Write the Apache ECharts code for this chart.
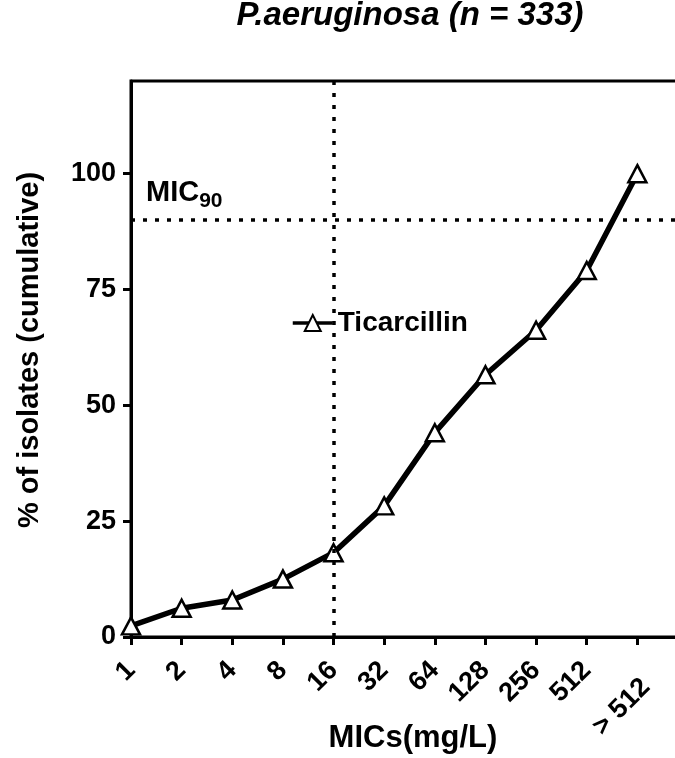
<!DOCTYPE html>
<html>
<head>
<meta charset="utf-8">
<script src="https://cdn.jsdelivr.net/npm/echarts@6/dist/echarts.min.js"></script>
<style>
  html, body { margin: 0; padding: 0; background: #fff; }
  #chart { width: 675px; height: 758px; }
</style>
</head>
<body>
<div id="chart"></div>
<script>
// MIC categories (mg/L) and cumulative % of isolates
const categories = ['1', '2', '4', '8', '16', '32', '64', '128', '256', '512', '> 512'];
const cumulative = [2.4, 6.2, 8.0, 12.5, 18.2, 28.3, 44.1, 56.6, 66.2, 79.1, 100];
const yTicks = [0, 25, 50, 75, 100];
const mic90Value = 90;
const mic90Category = '16';

const font = 'Liberation Sans, Arial, sans-serif';

const chart = echarts.init(document.getElementById('chart'));

chart.setOption({
    animation: false,
    backgroundColor: '#fff',
    textStyle: { fontFamily: font, color: '#000' },
    grid: {
        // plot runs off the right edge of the picture
        left: 131, top: 81, width: 557, height: 556,
        outerBoundsMode: 'none',
        show: true, borderColor: '#000', borderWidth: 3
    },
    legend: {
        left: 291, top: 309,
        itemWidth: 40, itemHeight: 20, padding: 0,
        lineStyle: { width: 3.5 },
        textStyle: { fontFamily: font, fontWeight: 'bold', fontSize: 28, color: '#000' },
        data: ['Ticarcillin']
    },
    xAxis: {
        type: 'category',
        boundaryGap: false,
        // trailing empty slot carries the axis past the last point
        data: categories.concat(['']),
        axisLine: { lineStyle: { color: '#000', width: 3 } },
        axisTick: { interval: 0, length: 8, lineStyle: { color: '#000', width: 3 } },
        axisLabel: {
            interval: 0, rotate: 45, margin: 29,
            fontFamily: font, fontWeight: 'bold', fontSize: 27, color: '#000',
            formatter: v => v === '> 512' ? '{far|' + v + '}' : v,
            rich: {
                far: {
                    fontFamily: font, fontWeight: 'bold', fontSize: 27, color: '#000',
                    padding: [36, 6, 0, 0]
                }
            }
        },
        splitLine: { show: false }
    },
    yAxis: {
        type: 'value',
        min: 0, max: 120, interval: 25,
        axisLine: { show: true, lineStyle: { color: '#000', width: 3 } },
        axisTick: { show: true, length: 8, customValues: yTicks, lineStyle: { color: '#000', width: 3 } },
        axisLabel: {
            margin: 15, customValues: yTicks,
            fontFamily: font, fontWeight: 'bold', fontSize: 27, color: '#000',
            formatter: v => yTicks.indexOf(v) >= 0 ? String(v) : ''
        },
        splitLine: { show: false }
    },
    series: [{
        name: 'Ticarcillin',
        type: 'line',
        data: cumulative,
        symbol: 'triangle',
        symbolSize: [18, 17],
        lineStyle: { color: '#000', width: 5.5 },
        itemStyle: { color: '#fff', borderColor: '#000', borderWidth: 2.5 },
        z: 3,
        markLine: {
            silent: true,
            symbol: ['none', 'none'],
            lineStyle: { color: '#000', width: 3.5, type: [4, 8] },
            data: [
                { xAxis: mic90Category, label: { show: false } },
                {
                    yAxis: mic90Value,
                    label: {
                        show: true,
                        position: 'insideStartTop',
                        distance: [15, 8],
                        formatter: '{m|MIC}{s|90}',
                        rich: {
                            m: { fontFamily: font, fontWeight: 'bold', fontSize: 29, color: '#000', padding: [0, 0, 5, 0], verticalAlign: 'bottom' },
                            s: { fontFamily: font, fontWeight: 'bold', fontSize: 21, color: '#000', verticalAlign: 'bottom' }
                        }
                    }
                }
            ]
        }
    }],
    graphic: [
        {
            type: 'text',
            x: 410, y: 16,
            style: {
                text: 'P.aeruginosa (n = 333)',
                fontFamily: font, fontWeight: 'bold', fontStyle: 'italic', fontSize: 33,
                fill: '#000', align: 'center', verticalAlign: 'middle'
            }
        },
        {
            type: 'text',
            x: 30, y: 350, rotation: Math.PI / 2,
            style: {
                text: '% of isolates (cumulative)',
                fontFamily: font, fontWeight: 'bold', fontSize: 29,
                fill: '#000', align: 'center', verticalAlign: 'middle'
            }
        },
        {
            type: 'text',
            x: 413, y: 738,
            style: {
                text: 'MICs(mg/L)',
                fontFamily: font, fontWeight: 'bold', fontSize: 31,
                fill: '#000', align: 'center', verticalAlign: 'middle'
            }
        }
    ]
});
</script>
</body>
</html>
